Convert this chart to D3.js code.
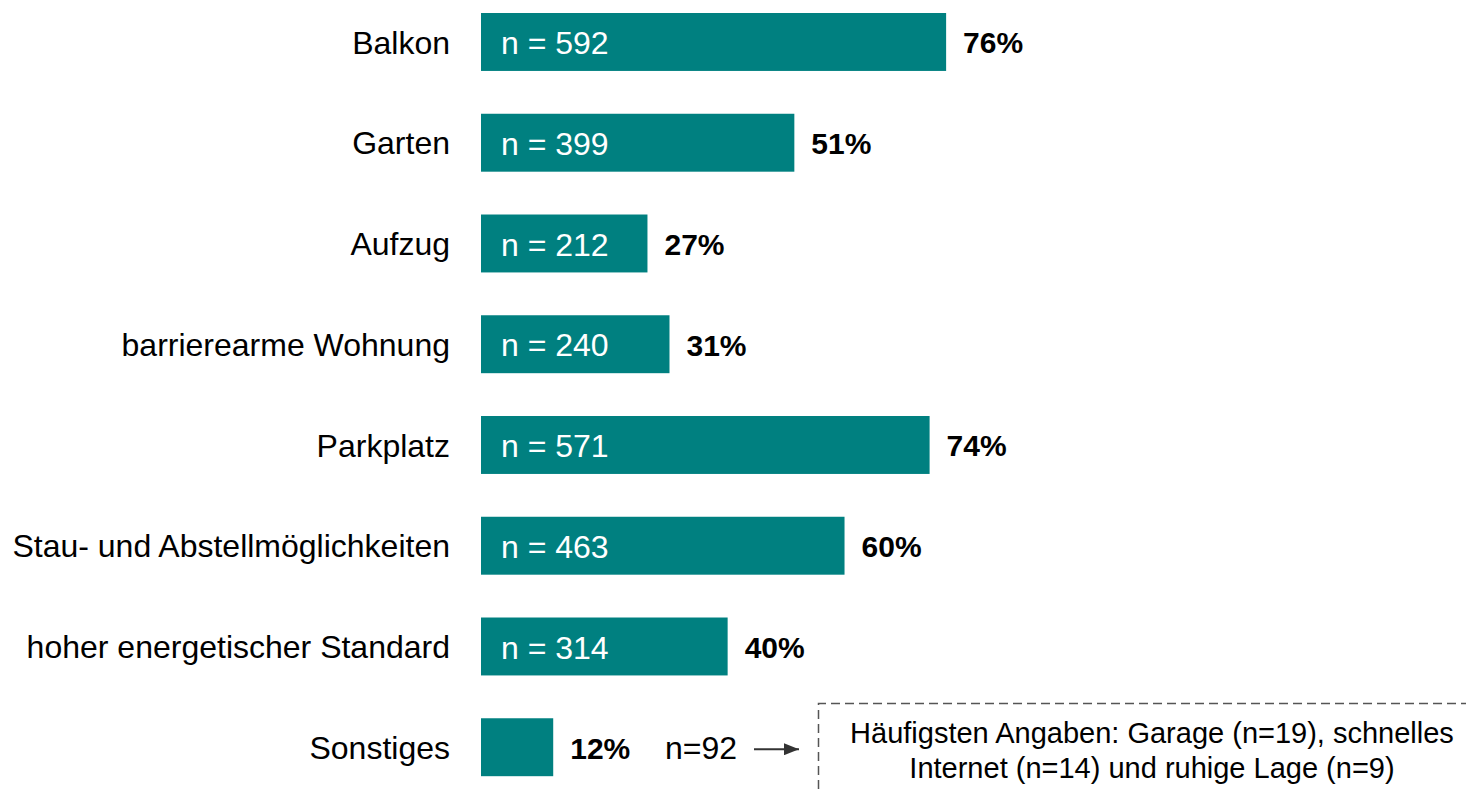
<!DOCTYPE html>
<html><head><meta charset="utf-8">
<script src="https://cdn.jsdelivr.net/npm/d3@7"></script>
<style>body{margin:0;background:#fff;}svg{display:block;font-family:"Liberation Sans",Arial,sans-serif;}</style>
</head><body>
<svg id="c" width="1466" height="790"></svg>
<script>
const categories = ["Balkon","Garten","Aufzug","barrierearme Wohnung","Parkplatz","Stau- und Abstellmöglichkeiten","hoher energetischer Standard","Sonstiges"];
const percents = [76.0,51.2,27.2,30.8,73.3,59.4,40.3,11.8];
const percentLabels = ["76%","51%","27%","31%","74%","60%","40%","12%"];
const counts = [592,399,212,240,571,463,314,92];
const noteLines = ["Häufigsten Angaben: Garage (n=19), schnelles","Internet (n=14) und ruhige Lage (n=9)"];

const svg = d3.select("#c");
const x = d3.scaleLinear().domain([0,100]).range([481,1093]);
const y = d3.scaleBand().domain(categories).range([-8.4,797.6]).paddingInner(0.425).paddingOuter(0.2125);
const color = "#008080";

const g = svg.append("g");
const rows = g.selectAll("g.row").data(categories).join("g").attr("class","row");
rows.append("rect")
  .attr("x", x(0)).attr("y", d=>y(d))
  .attr("width", (d,i)=>x(percents[i])-x(0))
  .attr("height", y.bandwidth()).attr("fill", color);
rows.append("text")
  .attr("x", 450).attr("y", d=>y(d)+y.bandwidth()/2+0.5)
  .attr("dy","0.35em").attr("text-anchor","end")
  .attr("font-size",32).attr("fill","#000").text(d=>d);
rows.append("text")
  .attr("x",(d,i)=>x(percents[i])+17).attr("y", d=>y(d)+y.bandwidth()/2+1)
  .attr("dy","0.35em").attr("font-size",30).attr("font-weight","bold").attr("fill","#000")
  .text((d,i)=>percentLabels[i]);
rows.filter((d,i)=>i<7).append("text")
  .attr("x", x(0)+20).attr("y", d=>y(d)+y.bandwidth()/2+1)
  .attr("dy","0.35em").attr("font-size",32).attr("fill","#fff")
  .text((d,i)=>"n = "+counts[i]);

// Sonstiges annotation
const last = categories[7];
const cy = y(last)+y.bandwidth()/2;
svg.append("text").attr("x",665).attr("y",cy+1).attr("dy","0.35em").attr("font-size",32).attr("fill","#000").text("n="+counts[7]);
svg.append("defs").append("marker").attr("id","ah").attr("viewBox","0 0 15 12").attr("refX",15).attr("refY",6)
  .attr("markerWidth",15).attr("markerHeight",12).attr("markerUnits","userSpaceOnUse").attr("orient","auto")
  .append("path").attr("d","M0,0L15,6L0,12Z").attr("fill","#333");
svg.append("line").attr("x1",754).attr("x2",799).attr("y1",cy+2).attr("y2",cy+2)
  .attr("stroke","#333").attr("stroke-width",2).attr("marker-end","url(#ah)");
svg.append("path").attr("d","M1470,703.5H818.5V795").attr("fill","none")
  .attr("stroke","#555").attr("stroke-width",1.5).attr("stroke-dasharray","9,5");
svg.selectAll("text.note").data(noteLines).join("text").attr("class","note")
  .attr("x",1152).attr("y",(d,i)=>733+i*35).attr("dy","0.35em").attr("text-anchor","middle")
  .attr("font-size",29).attr("fill","#000").text(d=>d);
</script>
</body></html>
